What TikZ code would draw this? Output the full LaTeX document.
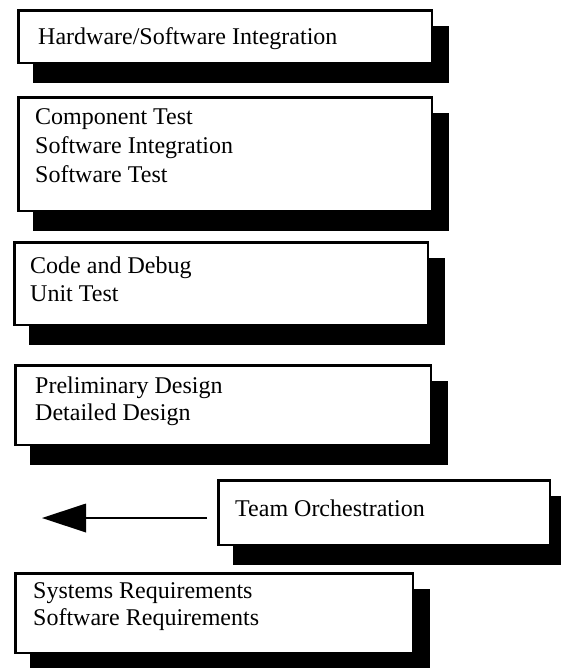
\documentclass[tikz,border=0pt]{standalone}
\usepackage{fontspec}
\setmainfont{Liberation Serif}
\usetikzlibrary{arrows.meta,backgrounds}
\begin{document}
\begin{tikzpicture}[x=1pt,y=-1pt,
  stagebox/.style={draw=black, line width=2.6pt, fill=white, inner sep=0pt,
    anchor=north west},
  dropshadow/.style={fill=black},
  boxtext/.style={anchor=base west, inner sep=0pt, font=\fontsize{24}{#1}\selectfont},
  boxtext/.default=28,
  flow/.style={line width=2.6pt, -{Triangle[length=44pt,width=29pt,line width=0pt]}},
]
\useasboundingbox (0,0) rectangle (560,668);

% stage boxes (outer edge positions; path sits 1.3pt inside)
\node[stagebox, minimum width=413.4pt, minimum height=52.4pt] (hw)     at (17.3,9.3)   {};
\node[stagebox, minimum width=413.4pt, minimum height=113.4pt] (comp)  at (17.3,96.3)  {};
\node[stagebox, minimum width=413.4pt, minimum height=82.4pt] (code)   at (13.3,241.3) {};
\node[stagebox, minimum width=415.4pt, minimum height=79.4pt] (design) at (14.3,364.3) {};
\node[stagebox, minimum width=331.4pt, minimum height=64.4pt] (team)   at (217.3,479.3) {};
\node[stagebox, minimum width=397.4pt, minimum height=79.4pt] (req)    at (14.3,572.3) {};

% black drop shadows behind every box
\begin{pgfonlayer}{background}
  \foreach \b in {hw,comp,code,design,team,req}
    \fill[dropshadow] ([shift={(16,17)}]\b.north west) rectangle ([shift={(16,19)}]\b.south east);
\end{pgfonlayer}

% box texts
\node[boxtext] (hwtext) at (38,45) {Hardware/Software Integration};
\node[boxtext=29] (comptext) at (35,125)
  {\begin{tabular}[t]{@{}l@{}}Component Test\\Software Integration\\Software Test\end{tabular}};
\node[boxtext=28] (codetext) at (30,273)
  {\begin{tabular}[t]{@{}l@{}}Code and Debug\\Unit Test\end{tabular}};
\node[boxtext=27] (designtext) at (35,393)
  {\begin{tabular}[t]{@{}l@{}}Preliminary Design\\Detailed Design\end{tabular}};
\node[boxtext] (teamtext) at (235,516) {Team Orchestration};
\node[boxtext=27] (reqtext) at (33,598)
  {\begin{tabular}[t]{@{}l@{}}Systems Requirements\\Software Requirements\end{tabular}};

% leftward arrow
\coordinate (tail) at (207,518);
\coordinate (tip) at (42,518);
\draw[flow] (tail) -- (tip);
\end{tikzpicture}
\end{document}
